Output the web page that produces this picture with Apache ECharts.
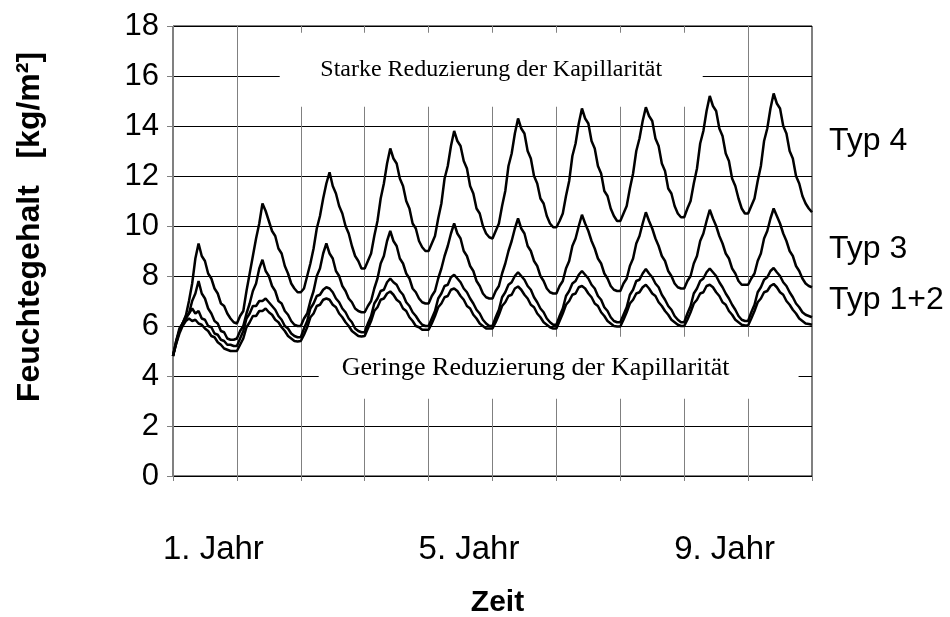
<!DOCTYPE html>
<html>
<head>
<meta charset="utf-8">
<title>Feuchtegehalt</title>
<script src="https://cdn.jsdelivr.net/npm/echarts/dist/echarts.min.js"></script>
<style>
  html, body { margin: 0; padding: 0; background: #fff; }
  #chart { width: 950px; height: 617px; }
</style>
</head>
<body>
<div id="chart"></div>
<script>
// 20 Werte pro Jahr, 10 Jahre
var perYear = 20;

var typ4 = [
  4.8, 5.4, 5.9, 6.1, 6.4, 7.0, 7.7, 8.7, 9.3, 8.8, 8.6, 8.1, 7.9, 7.5, 7.3, 6.9, 6.8, 6.5, 6.3, 6.15,
  6.1, 6.4, 6.6, 7.4, 8.1, 8.8, 9.5, 10.1, 10.9, 10.6, 10.2, 9.8, 9.6, 9.1, 8.9, 8.4, 8.1, 7.7, 7.5, 7.35,
  7.35, 7.5, 8.0, 8.5, 9.1, 9.9, 10.4, 11.1, 11.7, 12.15, 11.6, 11.3, 10.8, 10.5, 10.0, 9.7, 9.2, 8.8, 8.6, 8.3,
  8.3, 8.6, 8.9, 9.6, 10.2, 11.1, 11.7, 12.5, 13.1, 12.7, 12.5, 11.9, 11.6, 11.0, 10.7, 10.1, 9.9, 9.4, 9.15, 9.0,
  9.0, 9.3, 9.6, 10.3, 10.9, 11.9, 12.4, 13.2, 13.8, 13.4, 13.2, 12.6, 12.3, 11.6, 11.3, 10.7, 10.5, 10.0, 9.7, 9.55,
  9.5, 9.8, 10.1, 10.8, 11.4, 12.4, 12.9, 13.7, 14.3, 13.9, 13.7, 13.0, 12.7, 12.0, 11.7, 11.1, 10.9, 10.4, 10.1, 9.95,
  9.95, 10.2, 10.5, 11.2, 11.8, 12.8, 13.3, 14.1, 14.7, 14.3, 14.1, 13.4, 13.1, 12.4, 12.1, 11.4, 11.2, 10.7, 10.4, 10.2,
  10.2, 10.5, 10.8, 11.5, 12.1, 13.0, 13.5, 14.2, 14.75, 14.4, 14.2, 13.5, 13.2, 12.5, 12.2, 11.5, 11.3, 10.8, 10.5, 10.35,
  10.35, 10.7, 11.0, 11.7, 12.3, 13.3, 13.8, 14.6, 15.2, 14.8, 14.6, 13.9, 13.6, 12.9, 12.6, 11.9, 11.6, 11.1, 10.7, 10.5,
  10.5, 10.8, 11.1, 11.8, 12.4, 13.4, 13.9, 14.7, 15.3, 14.9, 14.7, 14.0, 13.7, 13.0, 12.7, 12.0, 11.7, 11.2, 10.9, 10.7,
  10.55
];

var typ3 = [
  4.8, 5.4, 5.8, 6.1, 6.3, 6.5, 7.0, 7.3, 7.8, 7.3, 7.1, 6.7, 6.5, 6.2, 6.1, 5.8, 5.75, 5.5, 5.45, 5.45,
  5.5, 5.8, 6.0, 6.5, 6.9, 7.4, 7.7, 8.3, 8.65, 8.2, 8.0, 7.6, 7.4, 7.0, 6.9, 6.6, 6.45, 6.2, 6.05, 6.0,
  6.0, 6.3, 6.5, 7.0, 7.4, 8.0, 8.3, 8.9, 9.3, 8.9, 8.7, 8.2, 8.0, 7.6, 7.4, 7.1, 6.95, 6.7, 6.6, 6.55,
  6.55, 6.8, 7.0, 7.5, 7.9, 8.5, 8.8, 9.4, 9.8, 9.4, 9.2, 8.7, 8.5, 8.1, 7.9, 7.5, 7.35, 7.1, 6.95, 6.9,
  6.9, 7.2, 7.4, 7.9, 8.3, 8.8, 9.2, 9.7, 10.1, 9.7, 9.5, 9.0, 8.8, 8.4, 8.2, 7.8, 7.6, 7.3, 7.15, 7.1,
  7.1, 7.4, 7.6, 8.1, 8.5, 9.0, 9.4, 9.9, 10.3, 9.9, 9.7, 9.2, 9.0, 8.6, 8.4, 8.0, 7.8, 7.5, 7.35, 7.3,
  7.3, 7.6, 7.8, 8.3, 8.6, 9.2, 9.5, 10.0, 10.45, 10.1, 9.8, 9.4, 9.1, 8.7, 8.5, 8.1, 7.9, 7.6, 7.45, 7.4,
  7.4, 7.7, 7.9, 8.4, 8.7, 9.3, 9.6, 10.1, 10.55, 10.2, 9.9, 9.5, 9.2, 8.8, 8.6, 8.2, 8.0, 7.7, 7.55, 7.5,
  7.5, 7.8, 8.0, 8.5, 8.8, 9.4, 9.7, 10.2, 10.65, 10.3, 10.0, 9.6, 9.3, 8.9, 8.7, 8.3, 8.1, 7.8, 7.65, 7.65,
  7.65, 7.9, 8.1, 8.6, 8.9, 9.5, 9.8, 10.3, 10.7, 10.4, 10.1, 9.7, 9.4, 9.0, 8.8, 8.4, 8.2, 7.9, 7.7, 7.6,
  7.55
];

var typ2 = [
  4.8, 5.3, 5.8, 6.1, 6.4, 6.5, 6.7, 6.5, 6.6, 6.3, 6.25, 6.0, 5.95, 5.7, 5.65, 5.45, 5.4, 5.25, 5.25, 5.2,
  5.2, 5.5, 5.8, 6.3, 6.5, 6.8, 6.8, 7.0, 7.0, 7.1, 6.95, 6.8, 6.65, 6.4, 6.25, 6.0, 5.9, 5.7, 5.6, 5.55,
  5.55, 5.9, 6.2, 6.7, 6.9, 7.2, 7.25, 7.45, 7.55, 7.5, 7.35, 7.1, 6.95, 6.7, 6.55, 6.3, 6.15, 5.9, 5.8, 5.75,
  5.75, 6.1, 6.4, 6.9, 7.1, 7.4, 7.45, 7.75, 7.9, 7.75, 7.65, 7.4, 7.25, 6.95, 6.8, 6.55, 6.4, 6.2, 6.05, 6.0,
  6.0, 6.3, 6.6, 7.1, 7.3, 7.6, 7.65, 7.95, 8.05, 7.9, 7.75, 7.5, 7.35, 7.1, 6.9, 6.65, 6.5, 6.25, 6.1, 6.0,
  6.0, 6.35, 6.65, 7.15, 7.35, 7.65, 7.75, 8.0, 8.15, 8.0, 7.85, 7.6, 7.45, 7.15, 6.95, 6.7, 6.55, 6.3, 6.15, 6.05,
  6.05, 6.4, 6.7, 7.2, 7.4, 7.7, 7.8, 8.05, 8.2, 8.05, 7.9, 7.65, 7.5, 7.2, 7.05, 6.75, 6.6, 6.35, 6.2, 6.15,
  6.15, 6.45, 6.75, 7.25, 7.45, 7.8, 7.85, 8.1, 8.28, 8.1, 7.95, 7.7, 7.55, 7.25, 7.05, 6.8, 6.65, 6.4, 6.25, 6.15,
  6.15, 6.5, 6.8, 7.3, 7.5, 7.8, 7.9, 8.15, 8.3, 8.15, 8.0, 7.75, 7.55, 7.3, 7.1, 6.85, 6.65, 6.4, 6.25, 6.2,
  6.2, 6.55, 6.85, 7.35, 7.55, 7.85, 7.95, 8.2, 8.32, 8.15, 8.0, 7.75, 7.6, 7.35, 7.15, 6.9, 6.75, 6.55, 6.45, 6.4,
  6.35
];

var typ1 = [
  4.8, 5.3, 5.7, 6.0, 6.2, 6.3, 6.2, 6.25, 6.1, 6.05, 5.9, 5.8, 5.6, 5.55, 5.35, 5.25, 5.1, 5.05, 5.0, 5.0,
  5.0, 5.25, 5.5, 5.95, 6.15, 6.4, 6.4, 6.6, 6.6, 6.7, 6.55, 6.45, 6.25, 6.15, 5.95, 5.8, 5.6, 5.5, 5.4, 5.38,
  5.4, 5.65, 5.95, 6.35, 6.5, 6.8, 6.85, 7.05, 7.1, 7.05, 6.85, 6.75, 6.5, 6.35, 6.15, 6.0, 5.8, 5.7, 5.6, 5.58,
  5.6, 5.9, 6.2, 6.6, 6.75, 7.05, 7.1, 7.3, 7.38, 7.25, 7.05, 6.95, 6.7, 6.6, 6.35, 6.2, 6.0, 5.95, 5.85, 5.85,
  5.85, 6.1, 6.4, 6.75, 6.9, 7.15, 7.2, 7.45, 7.5, 7.4, 7.2, 7.05, 6.8, 6.7, 6.45, 6.3, 6.1, 6.0, 5.9, 5.9,
  5.9, 6.15, 6.45, 6.8, 6.95, 7.2, 7.25, 7.5, 7.58, 7.45, 7.25, 7.1, 6.85, 6.75, 6.5, 6.35, 6.15, 6.05, 5.95, 5.9,
  5.9, 6.2, 6.5, 6.85, 7.0, 7.25, 7.3, 7.55, 7.6, 7.5, 7.3, 7.15, 6.9, 6.8, 6.55, 6.4, 6.2, 6.1, 6.0, 5.98,
  5.98, 6.25, 6.55, 6.9, 7.05, 7.3, 7.35, 7.55, 7.65, 7.5, 7.3, 7.2, 6.95, 6.8, 6.6, 6.45, 6.25, 6.15, 6.05, 6.0,
  6.0, 6.25, 6.55, 6.9, 7.05, 7.3, 7.35, 7.6, 7.65, 7.55, 7.35, 7.2, 6.95, 6.85, 6.6, 6.45, 6.25, 6.15, 6.05, 6.02,
  6.02, 6.3, 6.6, 6.95, 7.1, 7.35, 7.4, 7.6, 7.68, 7.55, 7.35, 7.25, 7.0, 6.85, 6.65, 6.5, 6.3, 6.2, 6.1, 6.08,
  6.05
];

var yearLabels = {1: '1. Jahr', 5: '5. Jahr', 9: '9. Jahr'};
var typNames = ['Typ 4', 'Typ 3', 'Typ 1+2'];

// Textfelder im Diagramm (in Achsenwerten: Jahr / kg/m²)
var boxStarke = [[1.67, 17.73], [8.29, 14.77]];
var boxGeringe = [[2.28, 5.57], [9.79, 3.09]];

function toPoints(arr){
    return arr.map(function(v, i){ return [i / perYear, v]; });
}

var myChart = echarts.init(document.getElementById('chart'));

var lineStyle = { color: '#000', width: 2.5 };

function makeSeries(name, arr){
    return {
        name: name,
        type: 'line',
        data: toPoints(arr),
        showSymbol: false,
        symbol: 'none',
        lineStyle: lineStyle,
        animation: false,
        silent: true
    };
}

var s4 = makeSeries('Typ 4', typ4);
s4.markArea = {
    silent: true,
    itemStyle: { color: '#fff', opacity: 1 },
    label: {
        show: true,
        position: 'inside',
        color: '#000',
        fontFamily: 'Liberation Serif',
        fontSize: 24
    },
    data: [
        [
            { name: 'Starke Reduzierung der Kapillarität', coord: boxStarke[0] },
            { coord: boxStarke[1] }
        ],
        [
            { name: 'Geringe Reduzierung der Kapillarität', coord: boxGeringe[0],
              label: { fontSize: 26, offset: [-23, 0] } },
            { coord: boxGeringe[1] }
        ]
    ]
};

var sans = '"Liberation Sans", Arial, sans-serif';

var option = {
    backgroundColor: '#fff',
    animation: false,
    grid: {
        left: 173,
        right: 138,
        top: 26,
        bottom: 141,
        containLabel: false,
        outerBoundsMode: 'none',
        show: true,
        borderColor: '#000',
        borderWidth: 1
    },
    xAxis: {
        type: 'value',
        min: 0,
        max: 10,
        interval: 1,
        name: 'Zeit',
        nameLocation: 'middle',
        nameGap: 112,
        nameTextStyle: { fontFamily: sans, fontWeight: 'bold', fontSize: 30, color: '#000', padding: [0, 0, 0, 10] },
        axisLine: { lineStyle: { color: '#000', width: 1 } },
        axisTick: { show: true, inside: false, length: 5, lineStyle: { color: '#808080' } },
        splitLine: { show: true, lineStyle: { color: '#808080', width: 1 } },
        axisLabel: {
            margin: 57,
            padding: [0, 47, 0, 0],
            fontFamily: sans,
            fontSize: 33,
            color: '#000',
            formatter: function(v){ return yearLabels[v] || ''; }
        }
    },
    yAxis: {
        type: 'value',
        min: 0,
        max: 18,
        interval: 2,
        axisLine: { show: true, lineStyle: { color: '#808080', width: 1 } },
        axisTick: { show: true, inside: false, length: 6, lineStyle: { color: '#808080' } },
        splitLine: { show: true, lineStyle: { color: '#000', width: 1 } },
        axisLabel: {
            margin: 14,
            fontFamily: sans,
            fontSize: 31,
            color: '#000'
        }
    },
    graphic: [
        {
            type: 'text', x: 30, y: 227, rotation: Math.PI / 2,
            style: { text: 'Feuchtegehalt   [kg/m²]', font: 'bold 32px ' + sans, fill: '#000', align: 'center', verticalAlign: 'middle' }
        },
        { type: 'text', x: 829, y: 141, style: { text: typNames[0], font: '32px ' + sans, fill: '#000', verticalAlign: 'middle' } },
        { type: 'text', x: 829, y: 249, style: { text: typNames[1], font: '32px ' + sans, fill: '#000', verticalAlign: 'middle' } },
        { type: 'text', x: 829, y: 300, style: { text: typNames[2], font: '32px ' + sans, fill: '#000', verticalAlign: 'middle' } }
    ],
    series: [
        s4,
        makeSeries('Typ 3', typ3),
        makeSeries('Typ 2', typ2),
        makeSeries('Typ 1', typ1)
    ]
};

myChart.setOption(option);
</script>
</body>
</html>
